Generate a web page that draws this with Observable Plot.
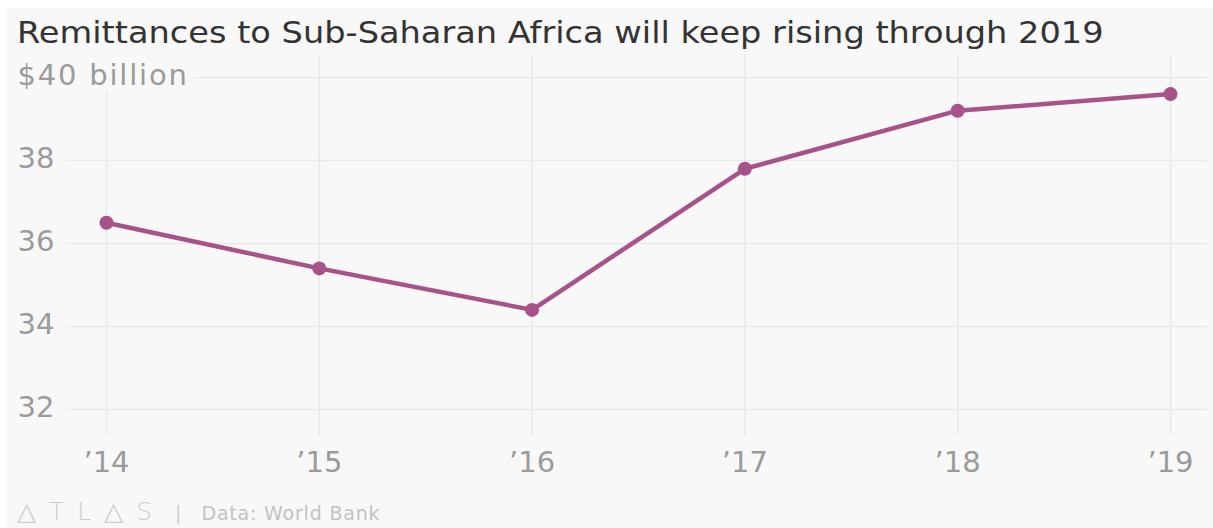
<!DOCTYPE html>
<html>
<head>
<meta charset="utf-8">
<script src="https://cdn.jsdelivr.net/npm/d3@7"></script>
<script src="https://cdn.jsdelivr.net/npm/@observablehq/plot@0.6"></script>
<style>
  html, body { margin: 0; padding: 0; background: #ffffff; }
  #wrap { position: relative; margin: 8px 0 0 7px; width: 1206px; height: 520px; background: #f8f8f8; overflow: hidden; font-family: "DejaVu Sans", sans-serif; }
  #title { padding: 5px 0 0 10px; height: 40px; line-height: 40px; font-size: 30px; color: #333333; white-space: nowrap; }
  #title span { display: inline-block; transform: scaleX(1.12); transform-origin: left center; }
  #chart svg { display: block; }
  #footer { position: absolute; left: 10px; top: 491px; line-height: 26px; font-size: 19px; color: #c2c2c2; white-space: nowrap; }
  #footer .logo { font-size: 25px; letter-spacing: 13px; color: #cdcdcd; font-weight: 300; }
  #footer .sep { margin: 0 20px 0 10px; color: #cdcdcd; }
  #footer .src { letter-spacing: 0.8px; }
</style>
</head>
<body>
<div id="wrap">
  <div id="title"><span>Remittances to Sub-Saharan Africa will keep rising through 2019</span></div>
  <div id="chart"></div>
  <div id="footer"><span class="logo">△TL△S</span><span class="sep">|</span><span class="src">Data: World Bank</span></div>
</div>
<script>
const years = [2014, 2015, 2016, 2017, 2018, 2019];
const remittances = [36.5, 35.4, 34.4, 37.8, 39.2, 39.6];
const yTicks = [32, 34, 36, 38, 40];
const yTickLabels = ["32", "34", "36", "38", "$40 billion"];
const xTicks = [2014, 2015, 2016, 2017, 2018, 2019];
const xTickLabels = ["’14", "’15", "’16", "’17", "’18", "’19"];

const data = years.map((year, i) => ({year, value: remittances[i]}));
const yLabelData = yTicks.map((v, i) => ({v, label: yTickLabels[i]}));

const lineColor = "#a8528a";
const gridColor = "#e9e9e9";
const bg = "#f8f8f8";

const chart = Plot.plot({
  width: 1206,
  height: 430,
  marginLeft: 59,
  marginRight: 6,
  marginTop: 2,
  marginBottom: 48,
  style: {fontFamily: "DejaVu Sans, sans-serif", fontSize: "29px", color: "#9b9b9b", background: "transparent", overflow: "visible"},
  x: {type: "linear", domain: [2013.812, 2019.174], label: null},
  y: {domain: [31.373, 40.53], axis: null, label: null},
  marks: [
    Plot.gridX(xTicks, {stroke: gridColor, strokeOpacity: 1, strokeWidth: 1.5}),
    Plot.gridY(yTicks, {stroke: gridColor, strokeOpacity: 1, strokeWidth: 1.5}),
    Plot.axisX(xTicks, {tickSize: 0, tickPadding: 16, label: null, tickFormat: (d) => xTickLabels[xTicks.indexOf(d)], fill: "#9b9b9b", fontSize: 29}),
    Plot.line(data, {x: "year", y: "value", stroke: lineColor, strokeWidth: 4.5, curve: "linear"}),
    Plot.dot(data, {x: "year", y: "value", r: 7, fill: lineColor, stroke: "none"}),
    Plot.text(yLabelData, {
      y: "v", text: "label", frameAnchor: "left", textAnchor: "start", dx: -49, dy: -2,
      fill: "#9b9b9b", stroke: bg, strokeWidth: 18, fontSize: 29
    })
  ]
});
d3.select(chart).selectAll("text").filter(function() { return this.textContent.includes("billion"); }).attr("letter-spacing", "1.8px");
document.getElementById("chart").appendChild(chart);
</script>
</body>
</html>
